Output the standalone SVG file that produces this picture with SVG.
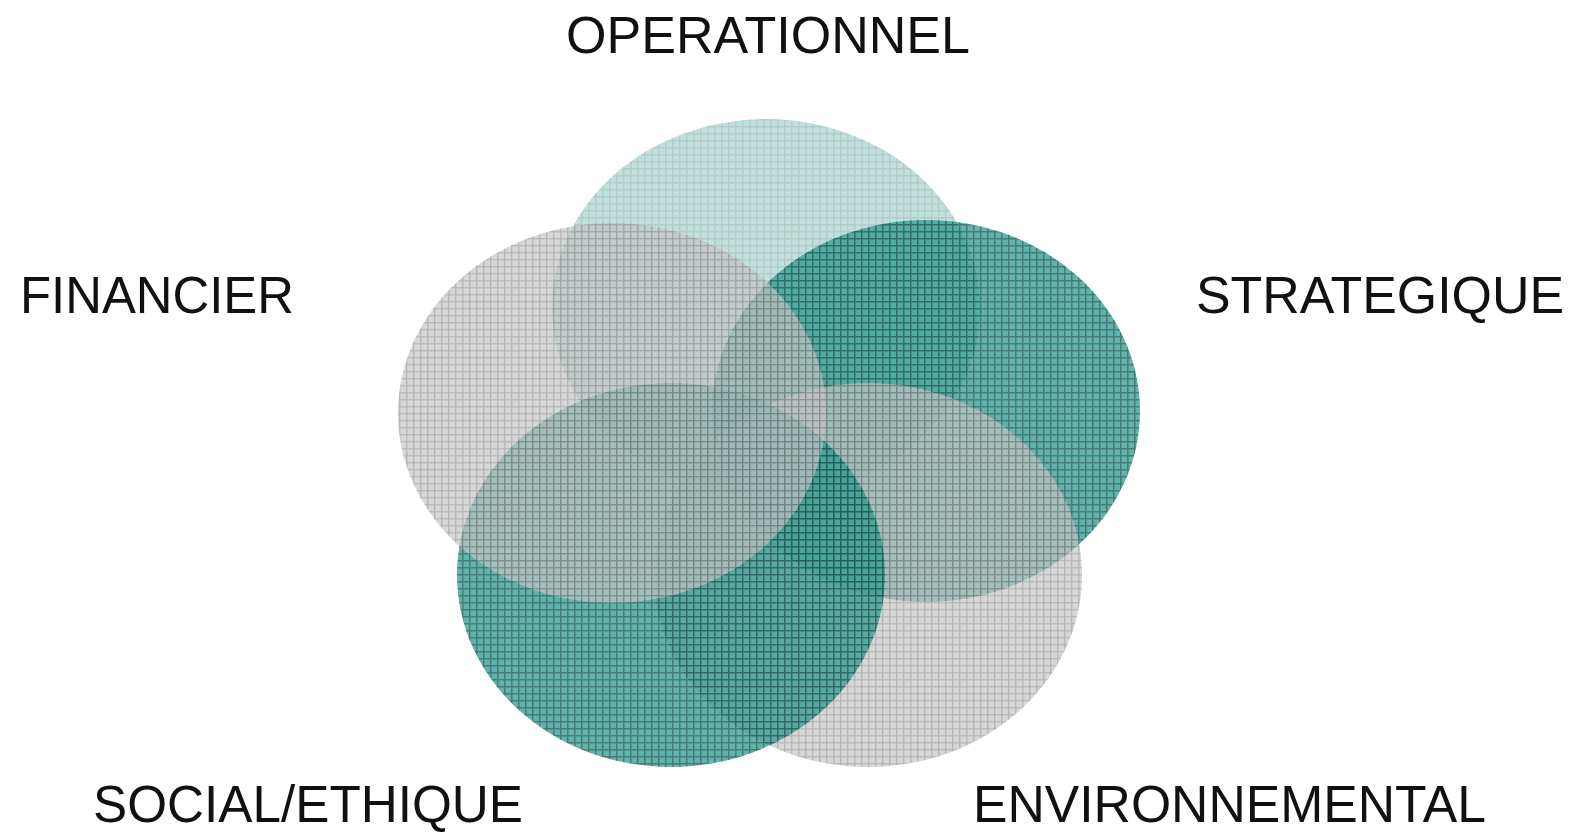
<svg xmlns="http://www.w3.org/2000/svg" width="1576" height="833" viewBox="0 0 1576 833">
  <style>
    .lbl { font-family: "Liberation Sans", Arial, sans-serif; font-size: 52px; fill: #111111; }
    .teal { fill: url(#gridTeal); }
    .gray { fill: url(#gridGray); }
  </style>
  <defs>
    <pattern id="gridTeal" patternUnits="userSpaceOnUse" width="7" height="7">
      <rect width="7" height="7" fill="#2a9c8f"/>
      <path d="M0 0.75 H7 M0.75 0 V7" stroke="#0b4f47" stroke-width="1.5"/>
    </pattern>
    <pattern id="gridGray" patternUnits="userSpaceOnUse" width="7" height="7">
      <rect width="7" height="7" fill="#c4c4c4"/>
      <path d="M0 0.75 H7 M0.75 0 V7" stroke="#8e8e8e" stroke-width="1.2"/>
    </pattern>
  </defs>
  <rect width="1576" height="833" fill="#ffffff"/>
  <g id="operationnel">
    <ellipse class="teal" cx="766" cy="308" rx="214" ry="189" opacity="0.3"/>
  </g>
  <g id="strategique">
    <ellipse class="teal" cx="926" cy="411" rx="214" ry="191" opacity="0.75"/>
  </g>
  <g id="environnemental">
    <ellipse class="gray" cx="868" cy="575" rx="214" ry="192" opacity="0.68"/>
  </g>
  <g id="social">
    <ellipse class="teal" cx="671" cy="575" rx="214" ry="192" opacity="0.75"/>
  </g>
  <g id="financier">
    <ellipse class="gray" cx="612" cy="413" rx="214" ry="190" opacity="0.68"/>
  </g>
  <g id="connectors"></g>
  <g id="labels">
    <text class="lbl" x="566" y="53" textLength="404" lengthAdjust="spacingAndGlyphs">OPERATIONNEL</text>
    <text class="lbl" x="20" y="313" textLength="274" lengthAdjust="spacingAndGlyphs">FINANCIER</text>
    <text class="lbl" x="1196" y="313" textLength="368" lengthAdjust="spacingAndGlyphs">STRATEGIQUE</text>
    <text class="lbl" x="93" y="822" textLength="430" lengthAdjust="spacingAndGlyphs">SOCIAL/ETHIQUE</text>
    <text class="lbl" x="973" y="822" textLength="513" lengthAdjust="spacingAndGlyphs">ENVIRONNEMENTAL</text>
  </g>
</svg>
